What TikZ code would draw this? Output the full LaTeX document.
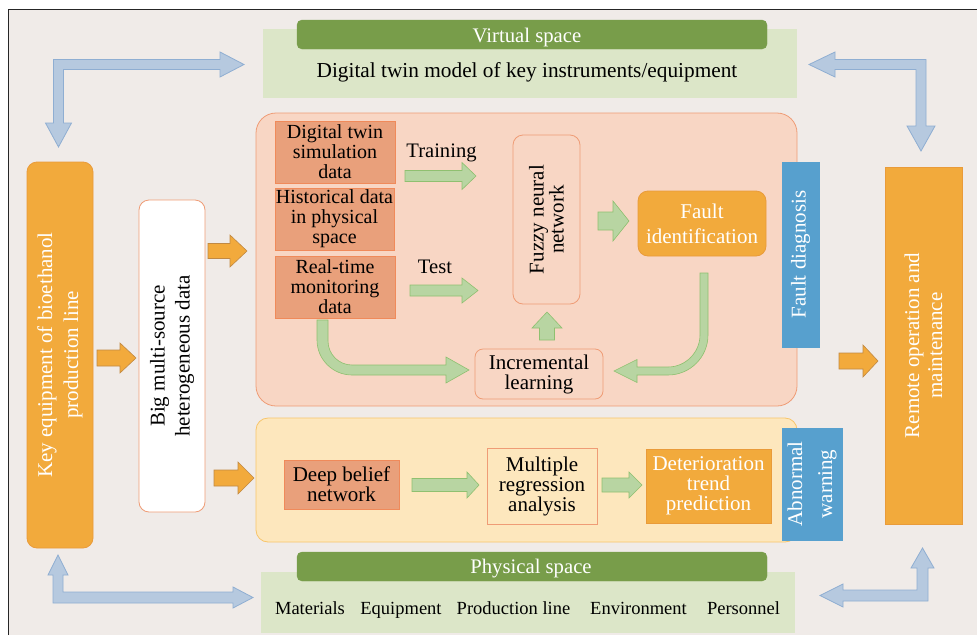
\documentclass[tikz,border=0pt]{standalone}
\usepackage{fontspec}
\setmainfont{Liberation Serif}
\definecolor{bgc}{HTML}{F0EBE8}
\definecolor{lgreen}{HTML}{DCE6C8}
\definecolor{dgreen}{HTML}{789D4A}
\definecolor{barrowf}{HTML}{B6C9DF}
\definecolor{barrowd}{HTML}{8FAED2}
\definecolor{orangef}{HTML}{F2AA3C}
\definecolor{oranged}{HTML}{E99B3A}
\definecolor{salmon}{HTML}{F8D6C4}
\definecolor{salmonb}{HTML}{EF9C76}
\definecolor{datab}{HTML}{E9A07B}
\definecolor{datad}{HTML}{F08A5A}
\definecolor{yellowf}{HTML}{FDE7BD}
\definecolor{yellowd}{HTML}{F8C56A}
\definecolor{garrowf}{HTML}{B8D5A2}
\definecolor{garrowd}{HTML}{8FC070}
\definecolor{bluebar}{HTML}{57A0CE}
\newcommand\blkarrow[7]{%
  \path[#1] (#2,{#5-#6}) -- (#4,{#5-#6}) -- (#4,{#5-#7}) -- (#3,#5) -- (#4,{#5+#7}) -- (#4,{#5+#6}) -- (#2,{#5+#6}) -- cycle;}
\newcommand\fsz[2]{\fontsize{#1}{#2}\selectfont}
\begin{document}
\begin{tikzpicture}[x=1pt,y=-1pt,
  txt/.style={font=\fsz{21}{20}, align=center, inner sep=0pt},
  rbox/.style={txt, line width=0.8pt, align=center},
  databox/.style={rbox, fill=datab, draw=datad, font=\fsz{20}{20}},
  orangebox/.style={rbox, fill=orangef, draw=oranged, text=white},
  bluebox/.style={rbox, fill=bluebar, draw=bluebar, text=white},
  oarrow/.style={fill=orangef, draw=oranged!80!black!90, line width=0.6pt},
  garrow/.style={fill=garrowf, draw=garrowd, line width=0.6pt},
  barrow/.style={fill=barrowf, draw=barrowd, line width=0.8pt},
  green bar/.style={fill=dgreen, draw=dgreen, rounded corners=5pt, minimum width=470, minimum height=29, inner sep=0pt}
]
\useasboundingbox (0,0) rectangle (977,635);
\fill[white] (0,0) rectangle (977,635);
\fill[bgc] (8.5,9.5) rectangle (977,635);
\draw[line width=1pt, black!85] (8.5,635) -- (8.5,9.5) -- (977,9.5);

% virtual space
\node[fill=lgreen, minimum width=534, minimum height=69, inner sep=0pt] (vsbg) at (530,63.5) {};
\node[green bar] (vsbar) at (532,34.5) {};
\node[txt, text=white, anchor=base, font=\fsz{20.7}{20}] (vstitle) at (527,42) {Virtual space};
\node[txt, anchor=base, font=\fsz{21.3}{21}] (vstext) at (527,77) {Digital twin model of key instruments/equipment};

% physical space
\node[fill=lgreen, minimum width=534, minimum height=61, inner sep=0pt] (psbg) at (528,602.5) {};
\node[green bar] (psbar) at (532,566.5) {};
\node[txt, text=white, anchor=base, font=\fsz{20.7}{20}] (pstitle) at (531,573) {Physical space};
\begin{scope}[every node/.style={txt, anchor=base, font=\fsz{18.5}{18.5}}]
\node (mat) at (310,614) {Materials};
\node (equ) at (401,614) {Equipment};
\node (pline) at (513.5,614) {Production line};
\node (env) at (638.5,614) {Environment};
\node (per) at (743.5,614) {Personnel};
\end{scope}

% regions
\node[rbox, fill=salmon, draw=salmonb, minimum width=541, minimum height=293, rounded corners=20pt] (redreg) at (526.5,259.5) {};
\node[rbox, fill=yellowf, draw=yellowd, minimum width=541, minimum height=124, rounded corners=12pt] (yelreg) at (526.5,480) {};

% left column
\node[orangebox, rounded corners=10pt, rotate=90, minimum width=386, minimum height=66, font=\fsz{21}{26}] (keyeq) at (60,355) {Key equipment of bioethanol\\production line};
\node[rbox, fill=white, draw=salmonb, rounded corners=10pt, rotate=90, minimum width=312, minimum height=66, font=\fsz{21}{25}] (big) at (172,356) {Big multi-source\\heterogeneous data};

% data boxes
\node[databox, minimum width=120, minimum height=62] (dts) at (335,152) {Digital twin\\simulation\\data};
\node[databox, minimum width=119, minimum height=62] (hist) at (334.5,219) {Historical data\\in physical\\space};
\node[databox, minimum width=120, minimum height=62] (rt) at (335,287) {Real-time\\monitoring\\data};
\node[txt, anchor=base, font=\fsz{20.6}{20}] (train) at (441.5,157) {Training};
\node[txt, anchor=base, font=\fsz{20.6}{20}] (test) at (435,273) {Test};

\node[rbox, fill=salmon, draw=salmonb, rounded corners=10pt, rotate=90, minimum width=169, minimum height=67, font=\fsz{21}{19}] (fnn) at (546.5,219.5) {Fuzzy neural\\network};
\node[orangebox, rounded corners=10pt, minimum width=128, minimum height=65, font=\fsz{21}{25}] (fid) at (702,223.5) {Fault\\identification};
\node[rbox, fill=salmon, draw=salmonb, rounded corners=8pt, minimum width=128, minimum height=50] (il) at (539,374) {Incremental\\learning};

\node[bluebox, rotate=90, minimum width=185, minimum height=37] (fd) at (800.5,254.5) {Fault diagnosis};
\node[orangebox, rotate=90, minimum width=357, minimum height=77, font=\fsz{21}{23}] (rom) at (923.5,345.5) {Remote operation and\\maintenance};

% lower region
\node[databox, minimum width=115, minimum height=49, font=\fsz{21}{20}] (dbn) at (341.5,484.5) {Deep belief\\network};
\node[rbox, fill=yellowf, draw=salmonb, minimum width=110, minimum height=76] (mra) at (542,486) {Multiple\\regression\\analysis};
\node[orangebox, minimum width=125, minimum height=74] (dtp) at (708.5,486) {Deterioration\\trend\\prediction};
\node[bluebox, rotate=90, minimum width=112, minimum height=60, font=\fsz{21}{30}] (aw) at (812,484) {Abnormal\\warning};

% orange arrows
\blkarrow{oarrow}{97}{136}{120}{358}{8}{15}
\blkarrow{oarrow}{208}{247}{230}{251}{7.5}{16}
\blkarrow{oarrow}{214}{254}{238}{478}{8}{16}
\blkarrow{oarrow}{839}{878}{863}{361}{8}{16}

% green straight arrows
\blkarrow{garrow}{405}{476}{462}{176}{5.5}{13.5}
\blkarrow{garrow}{410}{478}{462}{290.5}{5.5}{12.5}
\blkarrow{garrow}{598}{629}{613}{221}{9}{20}
\blkarrow{garrow}{412}{479}{467}{485}{6.5}{13}
\blkarrow{garrow}{602}{642}{629}{485}{7}{13}
\path[garrow] (539.5,340) -- (539.5,328) -- (532,328) -- (547,312) -- (562,328) -- (554.5,328) -- (554.5,340) -- cycle;

% green curved arrows
\path[garrow] (317,320) -- (317,340) .. controls (317,359.3) and (332.7,375) .. (352,375) -- (446,375) -- (446,383) -- (469,370) -- (446,357) -- (446,365) -- (352,365) .. controls (338.75,365) and (328,354.25) .. (328,341) -- (328,320) -- cycle;
\path[garrow] (700,273) -- (708,273) -- (708,335) .. controls (708,357.1) and (690.1,375) .. (668,375) -- (637,375) -- (637,382.5) -- (614,371) -- (637,359.5) -- (637,367) -- (668,367) .. controls (685.67,367) and (700,352.33) .. (700,335) -- cycle;

% blue double arrows
\path[barrow] (53.5,123) -- (53.5,59.5) -- (220,59.5) -- (220,52) -- (244,64.5) -- (220,77) -- (220,69.5) -- (63.5,69.5) -- (63.5,123) -- (71.5,123) -- (58.5,147) -- (45.5,123) -- cycle;
\path[barrow] (809,64.5) -- (835,52) -- (835,59.5) -- (926,59.5) -- (926,126) -- (935,126) -- (921,151) -- (907,126) -- (916,126) -- (916,69.5) -- (835,69.5) -- (835,77) -- cycle;
\path[barrow] (58,555) -- (68,575) -- (63,575) -- (63,592) -- (233,592) -- (233,587) -- (253,597.5) -- (233,608) -- (233,603) -- (53,603) -- (53,575) -- (48,575) -- cycle;
\path[barrow] (820,595.5) -- (843,584) -- (843,590) -- (917,590) -- (917,568) -- (911,568) -- (922.5,548) -- (934,568) -- (928,568) -- (928,601) -- (843,601) -- (843,607) -- cycle;
\end{tikzpicture}
\end{document}
